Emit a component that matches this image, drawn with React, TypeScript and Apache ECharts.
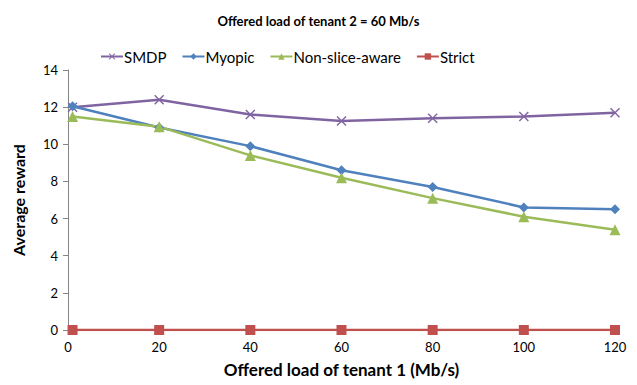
import React, { useEffect, useRef } from "react";
import * as echarts from "echarts";

const xValues = [1, 20, 40, 60, 80, 100, 120];
const smdp = [12.0, 12.4, 11.6, 11.25, 11.4, 11.5, 11.7];
const myopic = [12.05, 10.9, 9.9, 8.6, 7.7, 6.6, 6.5];
const nonSlice = [11.5, 10.95, 9.4, 8.2, 7.1, 6.1, 5.4];
const strict = [0, 0, 0, 0, 0, 0, 0];

const pair = (ys: number[]) => ys.map((y, i) => [xValues[i], y]);

const FONT = "Lato, 'Open Sans', sans-serif";
const X_SYMBOL = "path://M0,1L1,0L5,4L9,0L10,1L6,5L10,9L9,10L5,6L1,10L0,9L4,5Z";

export default function App() {
  const ref = useRef<HTMLDivElement>(null);
  useEffect(() => {
    if (!ref.current) return;
    const chart = echarts.init(ref.current, undefined, { renderer: "svg" });
    const mk = (name: string, data: number[], color: string, symbol: string, size: number) => ({
      name,
      type: "line",
      data: pair(data),
      symbol,
      symbolSize: size,
      lineStyle: { color, width: 2.5 },
      itemStyle: { color },
      z: name === "Strict" ? 1 : 3,
    });
    chart.setOption({
      animation: false,
      backgroundColor: "#fff",
      title: {
        text: "Offered load of tenant 2 = 60 Mb/s",
        left: "center",
        top: 9,
        textStyle: { fontFamily: FONT, fontSize: 13, fontWeight: "bold", color: "#000" },
      },
      legend: {
        top: 44,
        left: 95,
        itemWidth: 22,
        itemHeight: 8,
        itemGap: 15,
        textStyle: { fontFamily: FONT, fontSize: 15, color: "#000", padding: [0, 0, 0, -4] },
        data: ["SMDP", "Myopic", "Non-slice-aware", "Strict"],
      },
      grid: { left: 68, right: 22, top: 70, bottom: 55 },
      xAxis: {
        type: "value",
        min: 0,
        max: 120,
        interval: 20,
        name: "Offered load of tenant 1 (Mb/s)",
        nameLocation: "middle",
        nameGap: 31,
        nameTextStyle: { fontFamily: FONT, fontSize: 17, fontWeight: "bold", color: "#000" },
        axisLine: { show: true, lineStyle: { color: "#868686" } },
        axisTick: { show: false },
        axisLabel: { fontFamily: FONT, fontSize: 13, color: "#000", margin: 10 },
        splitLine: { show: false },
      },
      yAxis: {
        type: "value",
        min: 0,
        max: 14,
        interval: 2,
        name: "Average reward",
        nameLocation: "middle",
        nameGap: 42,
        nameTextStyle: { fontFamily: FONT, fontSize: 16, fontWeight: "bold", color: "#000" },
        axisLine: { show: true, lineStyle: { color: "#868686" } },
        axisTick: { show: true, length: 5, lineStyle: { color: "#868686" } },
        axisLabel: { fontFamily: FONT, fontSize: 13, color: "#000", margin: 10 },
        splitLine: { show: false },
      },
      series: [
        mk("SMDP", smdp, "#8064A2", X_SYMBOL, 10),
        mk("Myopic", myopic, "#4F81BD", "diamond", 10),
        mk("Non-slice-aware", nonSlice, "#9BBB59", "triangle", 11),
        mk("Strict", strict, "#C0504D", "rect", 10),
      ],
    });
    return () => chart.dispose();
  }, []);
  return <div ref={ref} style={{ width: 637, height: 385, position: "absolute", left: 0, top: 0 }} />;
}
